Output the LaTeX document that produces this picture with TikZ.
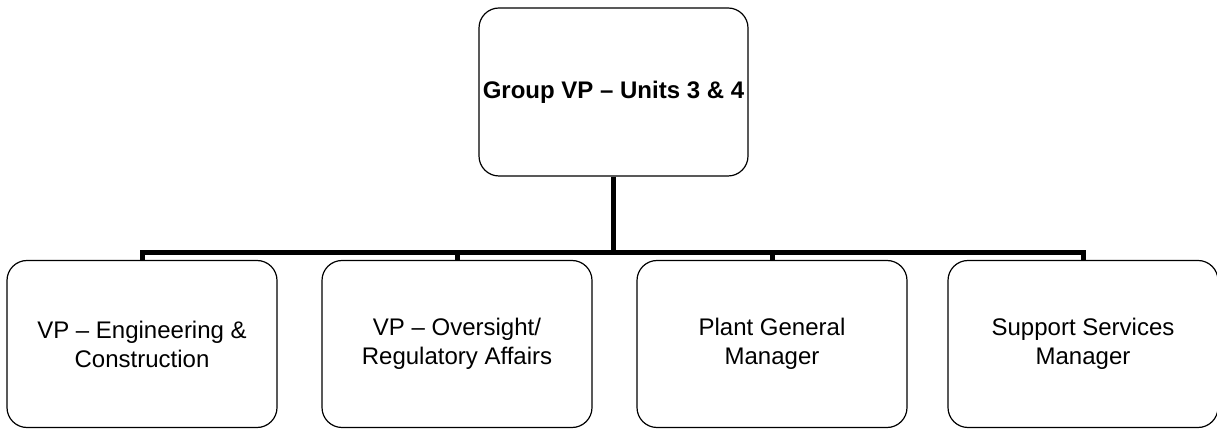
\documentclass[tikz,border=0pt]{standalone}
\usepackage{fontspec}
\setmainfont{Liberation Sans}
\usepackage{tikz}

\begin{document}
\begin{tikzpicture}[x=1pt,y=1pt,
  box/.style={draw, line width=1.2pt, rounded corners=20pt, align=center,
    minimum width=270pt, minimum height=167pt, inner sep=0pt,
    font=\fontsize{24}{29}\selectfont},
  conn/.style={line width=5pt, line join=miter}]
\useasboundingbox (0,0) rectangle (1217,428);
\node[box, minimum width=269pt, minimum height=168pt, font=\fontsize{24}{29}\selectfont\bfseries] (G) at (613.5,336){Group VP -- Units 3 \& 4};
\node[box] (E) at (142,84){VP -- Engineering \&\\Construction};
\node[box] (O) at (457,84){VP -- Oversight/\\Regulatory Affairs};
\node[box] (P) at (772,84){Plant General\\Manager};
\node[box] (S) at (1083,84){Support Services\\Manager};
\coordinate (bar) at (613.5,175);
\draw[conn] (G.south) -- (bar);
\draw[conn] (E.north) |- (bar) -| (S.north);
\draw[conn] (O.north) -- (O.north |- bar);
\draw[conn] (P.north) -- (P.north |- bar);
\end{tikzpicture}
\end{document}
